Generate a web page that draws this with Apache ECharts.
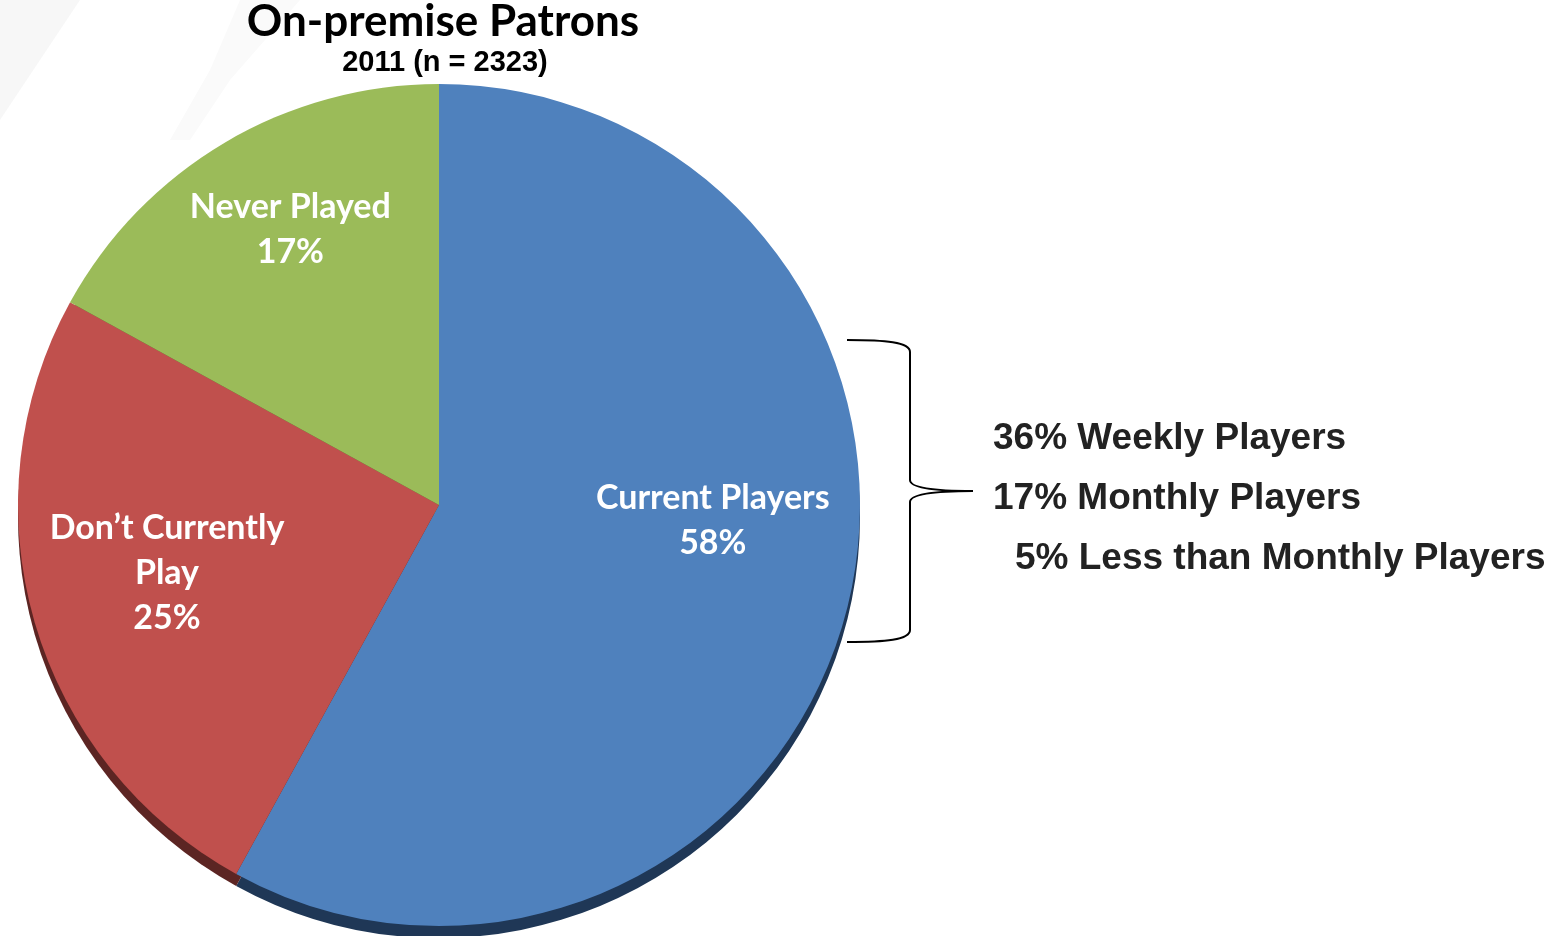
<!DOCTYPE html>
<html>
<head>
<meta charset="utf-8">
<title>On-premise Patrons</title>
<script src="https://cdn.jsdelivr.net/npm/echarts@6/dist/echarts.min.js"></script>
<style>
  html, body { margin: 0; padding: 0; background: #ffffff; }
  #chart { width: 1547px; height: 936px; }
</style>
</head>
<body>
<div id="chart"></div>
<script>
// Survey segments, clockwise from 12 o'clock
const segmentNames = ['Current Players', 'Don\u2019t Currently\nPlay', 'Never Played'];
const segmentValues = [58, 25, 17];
const segmentColors = ['#4f81bd', '#c0504d', '#9bbb59'];
const segmentEdgeColors = ['#1f3756', '#5c2523', '#4f6128'];

// Breakdown of current players by frequency
const breakdownPcts = [36, 17, 5];
const breakdownLabels = ['Weekly Players', 'Monthly Players', 'Less than Monthly Players'];

const titleText = 'On-premise Patrons';
const subtitleText = '2011 (n = 2323)';

const pieCenter = [439, 505];
const pieRadius = 421;

// label nudges for each slice
const labelOffsets = [[67, -38], [-67, 8], [-40, -92]];

const chart = echarts.init(document.getElementById('chart'), null, { renderer: 'canvas' });

const mainData = segmentValues.map((v, i) => ({
  name: segmentNames[i],
  value: v,
  itemStyle: { color: segmentColors[i] },
  label: { offset: labelOffsets[i] }
}));
const edgeData = segmentValues.map((v, i) => ({
  name: segmentNames[i],
  value: v,
  itemStyle: { color: segmentEdgeColors[i] }
}));

const breakdownGraphics = breakdownPcts.map((p, i) => ({
  type: 'text',
  left: i === 2 ? 1015 : 993,
  top: 420 + i * 60,
  style: {
    text: p + '% ' + breakdownLabels[i],
    font: 'bold 37px "Liberation Sans", Arial, sans-serif',
    fill: '#222222'
  }
}));

// curly bracket grouping the current-player breakdown
const bracketStyle = { stroke: '#000000', lineWidth: 2, fill: null };
const bracketGraphics = [
  { type: 'bezierCurve', shape: { x1: 847, y1: 340, x2: 910, y2: 352, cpx1: 885, cpy1: 340, cpx2: 910, cpy2: 342 }, style: bracketStyle },
  { type: 'line', shape: { x1: 910, y1: 352, x2: 910, y2: 480 }, style: bracketStyle },
  { type: 'bezierCurve', shape: { x1: 910, y1: 480, x2: 973, y2: 491, cpx1: 910, cpy1: 488, cpx2: 935, cpy2: 491 }, style: bracketStyle },
  { type: 'bezierCurve', shape: { x1: 973, y1: 491, x2: 910, y2: 502, cpx1: 935, cpy1: 491, cpx2: 910, cpy2: 494 }, style: bracketStyle },
  { type: 'line', shape: { x1: 910, y1: 502, x2: 910, y2: 630 }, style: bracketStyle },
  { type: 'bezierCurve', shape: { x1: 910, y1: 630, x2: 847, y2: 642, cpx1: 910, cpy1: 640, cpx2: 885, cpy2: 642 }, style: bracketStyle }
];

chart.setOption({
  animation: false,
  graphic: [
    // faint background swoosh
    {
      type: 'polygon', z: -10,
      shape: { points: [[0, 0], [80, 0], [0, 120]] },
      style: { fill: '#f7f7f7' }
    },
    {
      type: 'polygon', z: -10,
      shape: { points: [[240, 0], [300, 0], [230, 80], [190, 140], [170, 140], [210, 70]] },
      style: { fill: '#fafafa' }
    },
    {
      type: 'text',
      x: 443, y: 22,
      style: {
        text: titleText,
        font: 'bold 44px Lato, "Open Sans", sans-serif',
        fill: '#000000',
        textAlign: 'center',
        textVerticalAlign: 'middle'
      }
    },
    {
      type: 'text',
      x: 445, y: 63,
      style: {
        text: subtitleText,
        font: 'bold 29px "Liberation Sans", Arial, sans-serif',
        fill: '#000000',
        textAlign: 'center',
        textVerticalAlign: 'middle'
      }
    }
  ].concat(bracketGraphics, breakdownGraphics),
  series: [
    {
      // darker rim giving the pie some depth
      type: 'pie',
      silent: true,
      z: 1,
      center: [pieCenter[0], pieCenter[1] + 12],
      radius: pieRadius,
      startAngle: 90,
      clockwise: true,
      label: { show: false },
      labelLine: { show: false },
      data: edgeData
    },
    {
      type: 'pie',
      z: 2,
      center: pieCenter,
      radius: pieRadius,
      startAngle: 90,
      clockwise: true,
      itemStyle: { borderWidth: 0 },
      label: {
        show: true,
        position: 'inside',
        formatter: '{b}\n{c}%',
        color: '#ffffff',
        fontFamily: 'Lato, "Open Sans", sans-serif',
        fontWeight: 'bold',
        fontSize: 34,
        lineHeight: 45,
        align: 'center'
      },
      labelLine: { show: false },
      emphasis: { disabled: true },
      data: mainData
    }
  ]
});
</script>
</body>
</html>
